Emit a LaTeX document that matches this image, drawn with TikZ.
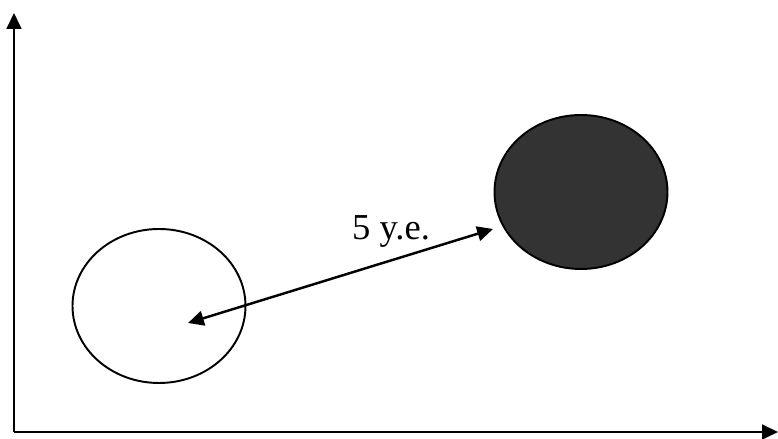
\documentclass[tikz,border=0pt]{standalone}
\usepackage{fontspec}
\setmainfont{Liberation Serif}
\usetikzlibrary{arrows.meta,shapes.geometric}
\definecolor{ink}{HTML}{000000}
\definecolor{disc}{HTML}{333333}

\begin{document}
\begin{tikzpicture}[x=0.1mm,y=-0.1mm,>={Triangle[length=4.5pt,width=4.2pt]},
  body/.style={ellipse,draw=ink,line width=0.55pt,minimum width=17.3mm,minimum height=15.4mm}]
  \useasboundingbox (0,0) rectangle (778,439);
  % axes
  \coordinate (origin) at (14,432);
  \coordinate (ytip) at (14,13);
  \coordinate (xtip) at (778,432);
  \draw[->,line width=0.6pt] (origin)--(ytip);
  \draw[->,line width=0.6pt] (origin)--(xtip);
  % the two bodies
  \node[body,fill=white] (light) at (159,306) {};
  \node[body,fill=disc] (dark) at (581,192) {};
  \coordinate (p) at (188,323);
  \coordinate (q) at (493,229);
  \draw[<->,line width=0.7pt] (p)--(q);
  \node[anchor=base,font=\fontsize{10.4}{12}\selectfont] (dist) at (391,240) {5 y.e.};
\end{tikzpicture}
\end{document}
